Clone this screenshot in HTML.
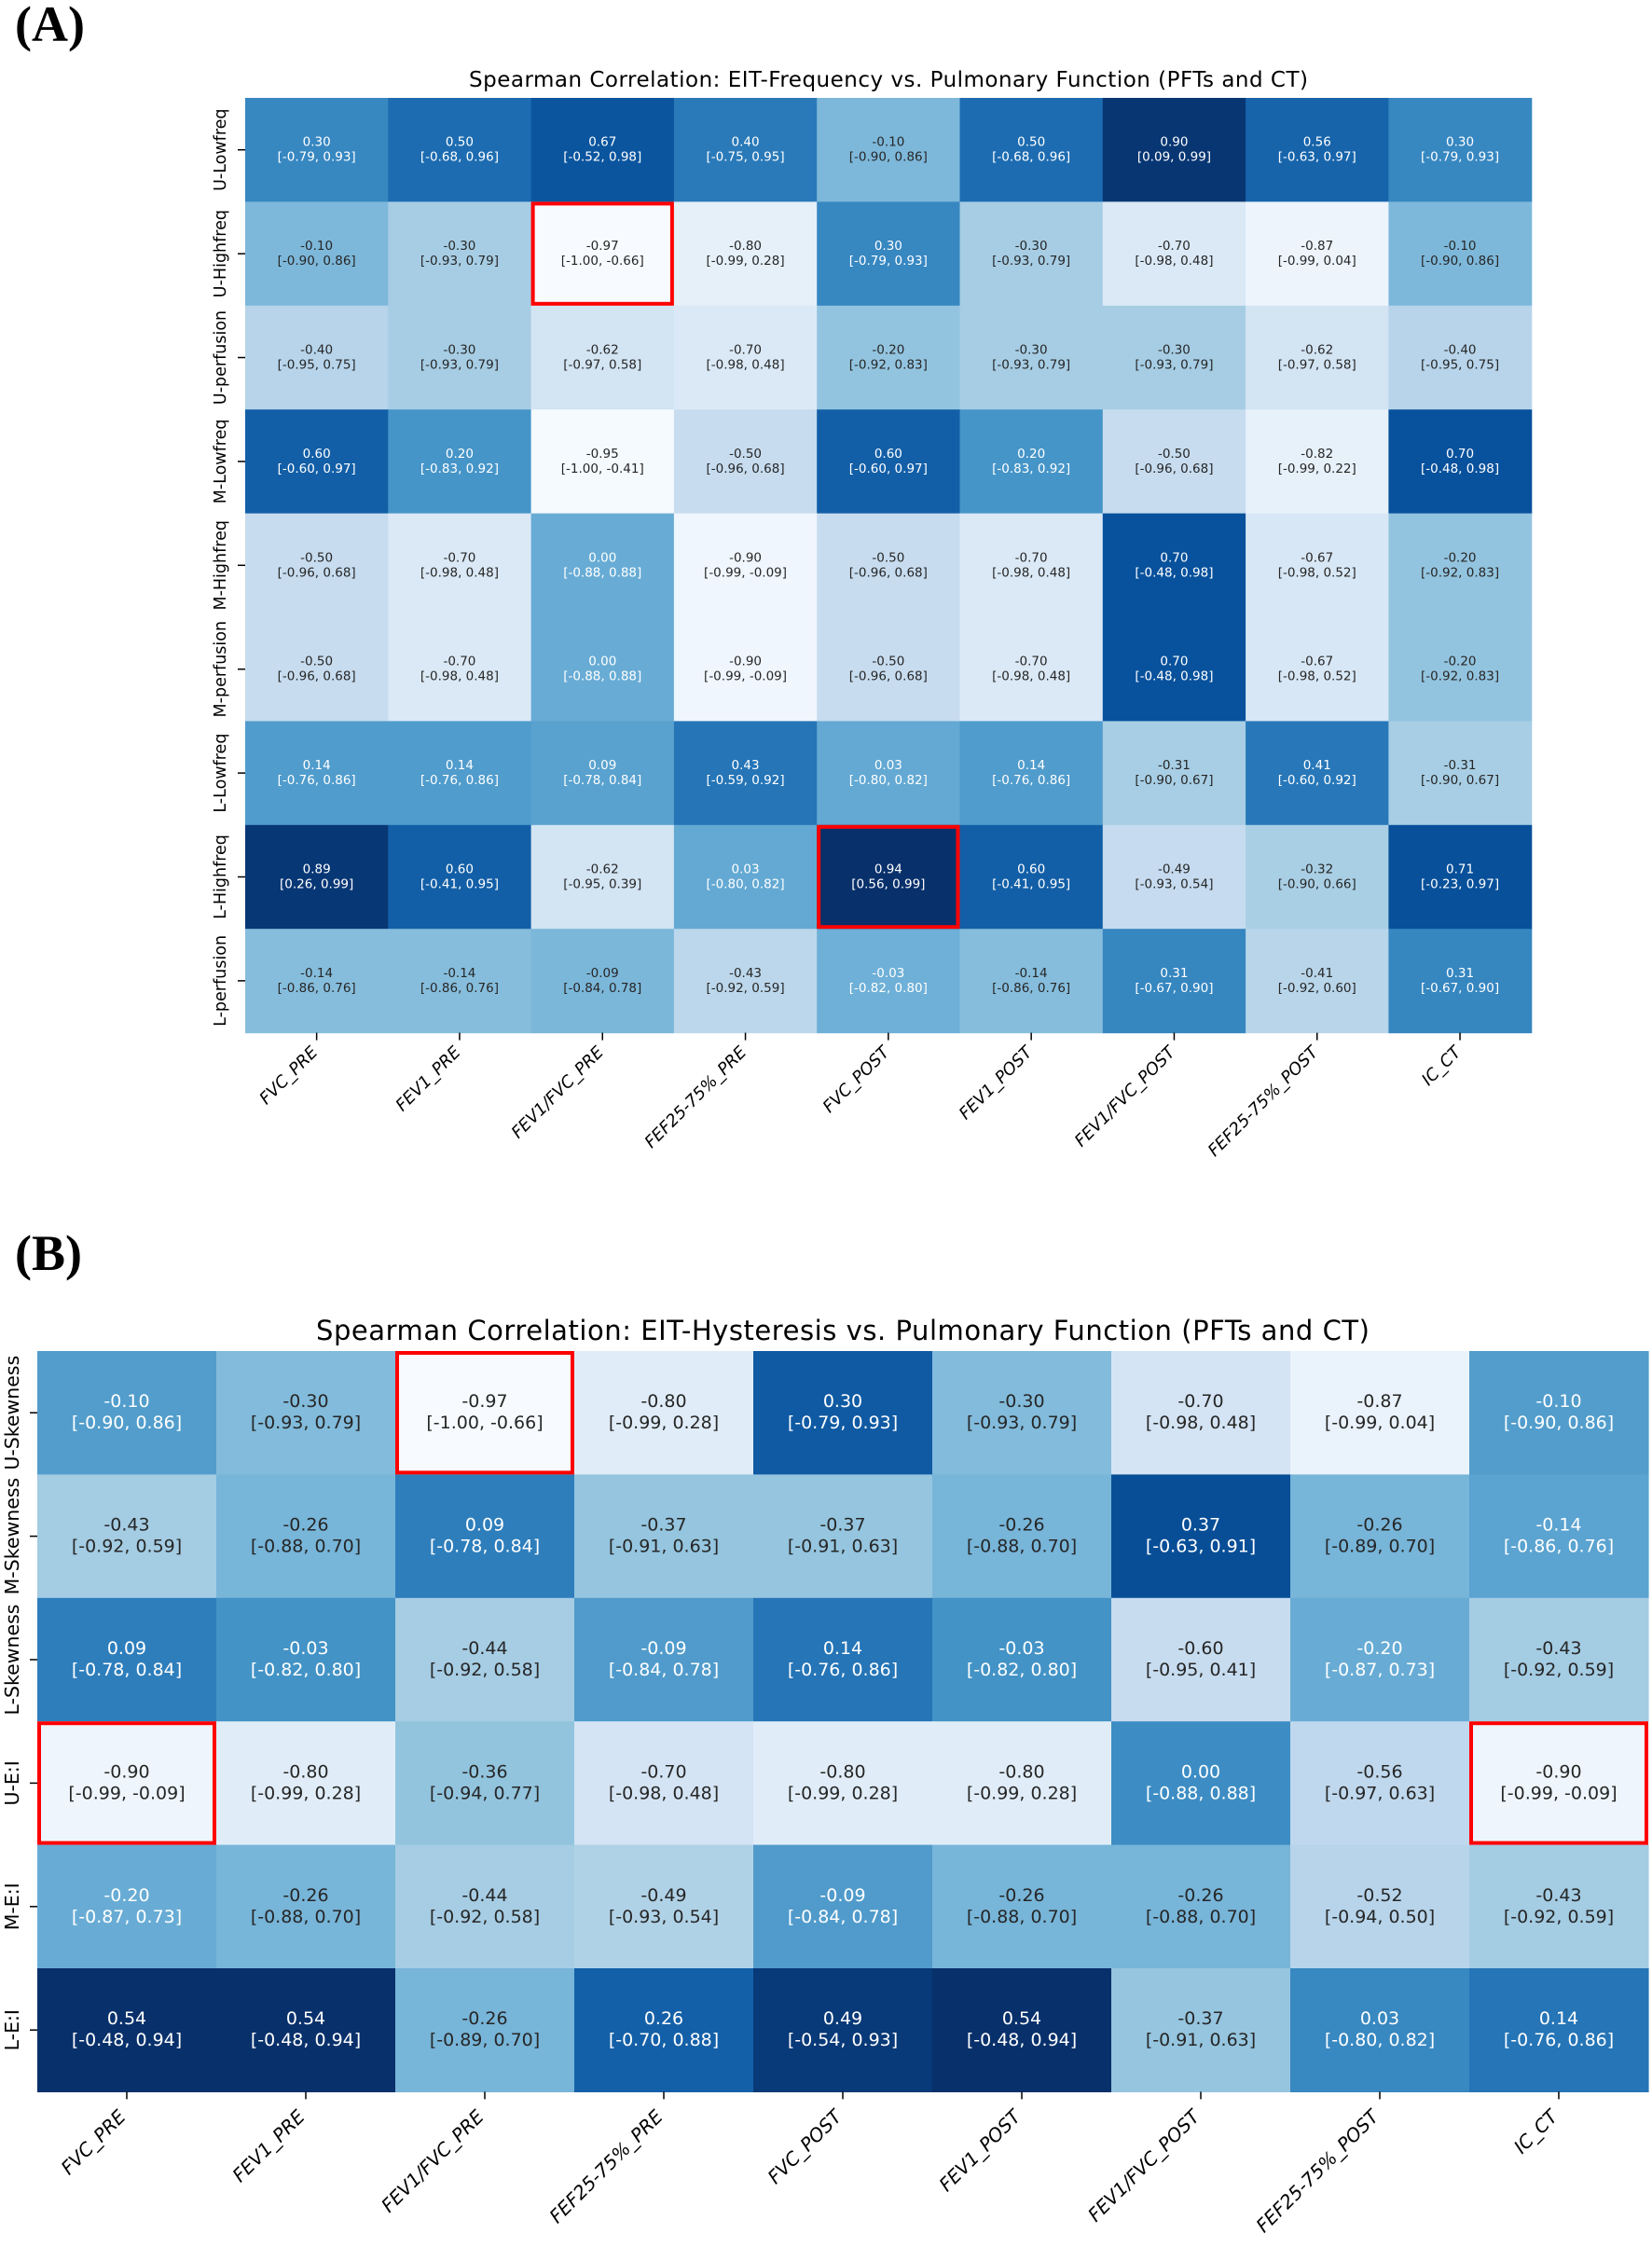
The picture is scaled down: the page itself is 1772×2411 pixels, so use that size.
<!DOCTYPE html>
<html><head><meta charset="utf-8">
<style>
html,body{margin:0;padding:0;background:#fff;}
svg{display:block;}
.a{font-family:"DejaVu Sans","Liberation Sans",sans-serif;font-size:13.5px;}
.b{font-family:"DejaVu Sans","Liberation Sans",sans-serif;font-size:19px;}
.lab{font-family:"DejaVu Sans","Liberation Sans",sans-serif;fill:#000;}
.pl{font-family:"Liberation Serif",serif;font-weight:bold;font-size:54px;fill:#000;}
</style></head>
<body>
<svg id="s" width="1772" height="2411" viewBox="0 0 1772 2411" xmlns="http://www.w3.org/2000/svg">
<rect width="1772" height="2411" fill="#fff"/>
<text class="pl" x="16" y="44">(A)</text>
<text class="pl" x="16" y="1362">(B)</text>
<text class="lab" x="953" y="93" font-size="23" text-anchor="middle" textLength="900">Spearman Correlation: EIT-Frequency vs. Pulmonary Function (PFTs and CT)</text>
<text class="lab" x="904" y="1437" font-size="29" text-anchor="middle" textLength="1130">Spearman Correlation: EIT-Hysteresis vs. Pulmonary Function (PFTs and CT)</text>
<g id="cellsA"></g><g id="cellsB"></g>
<g id="ta">
<text class="a"><tspan>0.30</tspan><tspan>[-0.79, 0.93]</tspan></text><text class="a"><tspan>0.50</tspan><tspan>[-0.68, 0.96]</tspan></text><text class="a"><tspan>0.67</tspan><tspan>[-0.52, 0.98]</tspan></text><text class="a"><tspan>0.40</tspan><tspan>[-0.75, 0.95]</tspan></text><text class="a"><tspan>-0.10</tspan><tspan>[-0.90, 0.86]</tspan></text><text class="a"><tspan>0.50</tspan><tspan>[-0.68, 0.96]</tspan></text><text class="a"><tspan>0.90</tspan><tspan>[0.09, 0.99]</tspan></text><text class="a"><tspan>0.56</tspan><tspan>[-0.63, 0.97]</tspan></text><text class="a"><tspan>0.30</tspan><tspan>[-0.79, 0.93]</tspan></text>
<text class="a"><tspan>-0.10</tspan><tspan>[-0.90, 0.86]</tspan></text><text class="a"><tspan>-0.30</tspan><tspan>[-0.93, 0.79]</tspan></text><text class="a"><tspan>-0.97</tspan><tspan>[-1.00, -0.66]</tspan></text><text class="a"><tspan>-0.80</tspan><tspan>[-0.99, 0.28]</tspan></text><text class="a"><tspan>0.30</tspan><tspan>[-0.79, 0.93]</tspan></text><text class="a"><tspan>-0.30</tspan><tspan>[-0.93, 0.79]</tspan></text><text class="a"><tspan>-0.70</tspan><tspan>[-0.98, 0.48]</tspan></text><text class="a"><tspan>-0.87</tspan><tspan>[-0.99, 0.04]</tspan></text><text class="a"><tspan>-0.10</tspan><tspan>[-0.90, 0.86]</tspan></text>
<text class="a"><tspan>-0.40</tspan><tspan>[-0.95, 0.75]</tspan></text><text class="a"><tspan>-0.30</tspan><tspan>[-0.93, 0.79]</tspan></text><text class="a"><tspan>-0.62</tspan><tspan>[-0.97, 0.58]</tspan></text><text class="a"><tspan>-0.70</tspan><tspan>[-0.98, 0.48]</tspan></text><text class="a"><tspan>-0.20</tspan><tspan>[-0.92, 0.83]</tspan></text><text class="a"><tspan>-0.30</tspan><tspan>[-0.93, 0.79]</tspan></text><text class="a"><tspan>-0.30</tspan><tspan>[-0.93, 0.79]</tspan></text><text class="a"><tspan>-0.62</tspan><tspan>[-0.97, 0.58]</tspan></text><text class="a"><tspan>-0.40</tspan><tspan>[-0.95, 0.75]</tspan></text>
<text class="a"><tspan>0.60</tspan><tspan>[-0.60, 0.97]</tspan></text><text class="a"><tspan>0.20</tspan><tspan>[-0.83, 0.92]</tspan></text><text class="a"><tspan>-0.95</tspan><tspan>[-1.00, -0.41]</tspan></text><text class="a"><tspan>-0.50</tspan><tspan>[-0.96, 0.68]</tspan></text><text class="a"><tspan>0.60</tspan><tspan>[-0.60, 0.97]</tspan></text><text class="a"><tspan>0.20</tspan><tspan>[-0.83, 0.92]</tspan></text><text class="a"><tspan>-0.50</tspan><tspan>[-0.96, 0.68]</tspan></text><text class="a"><tspan>-0.82</tspan><tspan>[-0.99, 0.22]</tspan></text><text class="a"><tspan>0.70</tspan><tspan>[-0.48, 0.98]</tspan></text>
<text class="a"><tspan>-0.50</tspan><tspan>[-0.96, 0.68]</tspan></text><text class="a"><tspan>-0.70</tspan><tspan>[-0.98, 0.48]</tspan></text><text class="a"><tspan>0.00</tspan><tspan>[-0.88, 0.88]</tspan></text><text class="a"><tspan>-0.90</tspan><tspan>[-0.99, -0.09]</tspan></text><text class="a"><tspan>-0.50</tspan><tspan>[-0.96, 0.68]</tspan></text><text class="a"><tspan>-0.70</tspan><tspan>[-0.98, 0.48]</tspan></text><text class="a"><tspan>0.70</tspan><tspan>[-0.48, 0.98]</tspan></text><text class="a"><tspan>-0.67</tspan><tspan>[-0.98, 0.52]</tspan></text><text class="a"><tspan>-0.20</tspan><tspan>[-0.92, 0.83]</tspan></text>
<text class="a"><tspan>-0.50</tspan><tspan>[-0.96, 0.68]</tspan></text><text class="a"><tspan>-0.70</tspan><tspan>[-0.98, 0.48]</tspan></text><text class="a"><tspan>0.00</tspan><tspan>[-0.88, 0.88]</tspan></text><text class="a"><tspan>-0.90</tspan><tspan>[-0.99, -0.09]</tspan></text><text class="a"><tspan>-0.50</tspan><tspan>[-0.96, 0.68]</tspan></text><text class="a"><tspan>-0.70</tspan><tspan>[-0.98, 0.48]</tspan></text><text class="a"><tspan>0.70</tspan><tspan>[-0.48, 0.98]</tspan></text><text class="a"><tspan>-0.67</tspan><tspan>[-0.98, 0.52]</tspan></text><text class="a"><tspan>-0.20</tspan><tspan>[-0.92, 0.83]</tspan></text>
<text class="a"><tspan>0.14</tspan><tspan>[-0.76, 0.86]</tspan></text><text class="a"><tspan>0.14</tspan><tspan>[-0.76, 0.86]</tspan></text><text class="a"><tspan>0.09</tspan><tspan>[-0.78, 0.84]</tspan></text><text class="a"><tspan>0.43</tspan><tspan>[-0.59, 0.92]</tspan></text><text class="a"><tspan>0.03</tspan><tspan>[-0.80, 0.82]</tspan></text><text class="a"><tspan>0.14</tspan><tspan>[-0.76, 0.86]</tspan></text><text class="a"><tspan>-0.31</tspan><tspan>[-0.90, 0.67]</tspan></text><text class="a"><tspan>0.41</tspan><tspan>[-0.60, 0.92]</tspan></text><text class="a"><tspan>-0.31</tspan><tspan>[-0.90, 0.67]</tspan></text>
<text class="a"><tspan>0.89</tspan><tspan>[0.26, 0.99]</tspan></text><text class="a"><tspan>0.60</tspan><tspan>[-0.41, 0.95]</tspan></text><text class="a"><tspan>-0.62</tspan><tspan>[-0.95, 0.39]</tspan></text><text class="a"><tspan>0.03</tspan><tspan>[-0.80, 0.82]</tspan></text><text class="a"><tspan>0.94</tspan><tspan>[0.56, 0.99]</tspan></text><text class="a"><tspan>0.60</tspan><tspan>[-0.41, 0.95]</tspan></text><text class="a"><tspan>-0.49</tspan><tspan>[-0.93, 0.54]</tspan></text><text class="a"><tspan>-0.32</tspan><tspan>[-0.90, 0.66]</tspan></text><text class="a"><tspan>0.71</tspan><tspan>[-0.23, 0.97]</tspan></text>
<text class="a"><tspan>-0.14</tspan><tspan>[-0.86, 0.76]</tspan></text><text class="a"><tspan>-0.14</tspan><tspan>[-0.86, 0.76]</tspan></text><text class="a"><tspan>-0.09</tspan><tspan>[-0.84, 0.78]</tspan></text><text class="a"><tspan>-0.43</tspan><tspan>[-0.92, 0.59]</tspan></text><text class="a"><tspan>-0.03</tspan><tspan>[-0.82, 0.80]</tspan></text><text class="a"><tspan>-0.14</tspan><tspan>[-0.86, 0.76]</tspan></text><text class="a"><tspan>0.31</tspan><tspan>[-0.67, 0.90]</tspan></text><text class="a"><tspan>-0.41</tspan><tspan>[-0.92, 0.60]</tspan></text><text class="a"><tspan>0.31</tspan><tspan>[-0.67, 0.90]</tspan></text>
</g>
<g id="tb">
<text class="b"><tspan>-0.10</tspan><tspan>[-0.90, 0.86]</tspan></text><text class="b"><tspan>-0.30</tspan><tspan>[-0.93, 0.79]</tspan></text><text class="b"><tspan>-0.97</tspan><tspan>[-1.00, -0.66]</tspan></text><text class="b"><tspan>-0.80</tspan><tspan>[-0.99, 0.28]</tspan></text><text class="b"><tspan>0.30</tspan><tspan>[-0.79, 0.93]</tspan></text><text class="b"><tspan>-0.30</tspan><tspan>[-0.93, 0.79]</tspan></text><text class="b"><tspan>-0.70</tspan><tspan>[-0.98, 0.48]</tspan></text><text class="b"><tspan>-0.87</tspan><tspan>[-0.99, 0.04]</tspan></text><text class="b"><tspan>-0.10</tspan><tspan>[-0.90, 0.86]</tspan></text>
<text class="b"><tspan>-0.43</tspan><tspan>[-0.92, 0.59]</tspan></text><text class="b"><tspan>-0.26</tspan><tspan>[-0.88, 0.70]</tspan></text><text class="b"><tspan>0.09</tspan><tspan>[-0.78, 0.84]</tspan></text><text class="b"><tspan>-0.37</tspan><tspan>[-0.91, 0.63]</tspan></text><text class="b"><tspan>-0.37</tspan><tspan>[-0.91, 0.63]</tspan></text><text class="b"><tspan>-0.26</tspan><tspan>[-0.88, 0.70]</tspan></text><text class="b"><tspan>0.37</tspan><tspan>[-0.63, 0.91]</tspan></text><text class="b"><tspan>-0.26</tspan><tspan>[-0.89, 0.70]</tspan></text><text class="b"><tspan>-0.14</tspan><tspan>[-0.86, 0.76]</tspan></text>
<text class="b"><tspan>0.09</tspan><tspan>[-0.78, 0.84]</tspan></text><text class="b"><tspan>-0.03</tspan><tspan>[-0.82, 0.80]</tspan></text><text class="b"><tspan>-0.44</tspan><tspan>[-0.92, 0.58]</tspan></text><text class="b"><tspan>-0.09</tspan><tspan>[-0.84, 0.78]</tspan></text><text class="b"><tspan>0.14</tspan><tspan>[-0.76, 0.86]</tspan></text><text class="b"><tspan>-0.03</tspan><tspan>[-0.82, 0.80]</tspan></text><text class="b"><tspan>-0.60</tspan><tspan>[-0.95, 0.41]</tspan></text><text class="b"><tspan>-0.20</tspan><tspan>[-0.87, 0.73]</tspan></text><text class="b"><tspan>-0.43</tspan><tspan>[-0.92, 0.59]</tspan></text>
<text class="b"><tspan>-0.90</tspan><tspan>[-0.99, -0.09]</tspan></text><text class="b"><tspan>-0.80</tspan><tspan>[-0.99, 0.28]</tspan></text><text class="b"><tspan>-0.36</tspan><tspan>[-0.94, 0.77]</tspan></text><text class="b"><tspan>-0.70</tspan><tspan>[-0.98, 0.48]</tspan></text><text class="b"><tspan>-0.80</tspan><tspan>[-0.99, 0.28]</tspan></text><text class="b"><tspan>-0.80</tspan><tspan>[-0.99, 0.28]</tspan></text><text class="b"><tspan>0.00</tspan><tspan>[-0.88, 0.88]</tspan></text><text class="b"><tspan>-0.56</tspan><tspan>[-0.97, 0.63]</tspan></text><text class="b"><tspan>-0.90</tspan><tspan>[-0.99, -0.09]</tspan></text>
<text class="b"><tspan>-0.20</tspan><tspan>[-0.87, 0.73]</tspan></text><text class="b"><tspan>-0.26</tspan><tspan>[-0.88, 0.70]</tspan></text><text class="b"><tspan>-0.44</tspan><tspan>[-0.92, 0.58]</tspan></text><text class="b"><tspan>-0.49</tspan><tspan>[-0.93, 0.54]</tspan></text><text class="b"><tspan>-0.09</tspan><tspan>[-0.84, 0.78]</tspan></text><text class="b"><tspan>-0.26</tspan><tspan>[-0.88, 0.70]</tspan></text><text class="b"><tspan>-0.26</tspan><tspan>[-0.88, 0.70]</tspan></text><text class="b"><tspan>-0.52</tspan><tspan>[-0.94, 0.50]</tspan></text><text class="b"><tspan>-0.43</tspan><tspan>[-0.92, 0.59]</tspan></text>
<text class="b"><tspan>0.54</tspan><tspan>[-0.48, 0.94]</tspan></text><text class="b"><tspan>0.54</tspan><tspan>[-0.48, 0.94]</tspan></text><text class="b"><tspan>-0.26</tspan><tspan>[-0.89, 0.70]</tspan></text><text class="b"><tspan>0.26</tspan><tspan>[-0.70, 0.88]</tspan></text><text class="b"><tspan>0.49</tspan><tspan>[-0.54, 0.93]</tspan></text><text class="b"><tspan>0.54</tspan><tspan>[-0.48, 0.94]</tspan></text><text class="b"><tspan>-0.37</tspan><tspan>[-0.91, 0.63]</tspan></text><text class="b"><tspan>0.03</tspan><tspan>[-0.80, 0.82]</tspan></text><text class="b"><tspan>0.14</tspan><tspan>[-0.76, 0.86]</tspan></text>
</g>
<g id="ya" class="lab" font-size="17.5">
<text>U-Lowfreq</text><text>U-Highfreq</text><text>U-perfusion</text><text>M-Lowfreq</text><text>M-Highfreq</text><text>M-perfusion</text><text>L-Lowfreq</text><text>L-Highfreq</text><text>L-perfusion</text>
</g>
<g id="yb" class="lab" font-size="20.5">
<text>U-Skewness</text><text>M-Skewness</text><text>L-Skewness</text><text>U-E:I</text><text>M-E:I</text><text>L-E:I</text>
</g>
<g id="xa" class="lab" font-size="18" font-style="italic">
<text>FVC_PRE</text><text>FEV1_PRE</text><text>FEV1/FVC_PRE</text><text>FEF25-75%_PRE</text><text>FVC_POST</text><text>FEV1_POST</text><text>FEV1/FVC_POST</text><text>FEF25-75%_POST</text><text>IC_CT</text>
</g>
<g id="xb" class="lab" font-size="20" font-style="italic">
<text>FVC_PRE</text><text>FEV1_PRE</text><text>FEV1/FVC_PRE</text><text>FEF25-75%_PRE</text><text>FVC_POST</text><text>FEV1_POST</text><text>FEV1/FVC_POST</text><text>FEF25-75%_POST</text><text>IC_CT</text>
</g>
<g id="ticks" stroke="#000" stroke-width="1.5"></g>
<g id="red" fill="none" stroke="#f00" stroke-width="4"></g>
</svg>
<script>
(function(){
var NS="http://www.w3.org/2000/svg";
var B=[[247,251,255],[222,235,247],[198,219,239],[158,202,225],[107,174,214],[66,146,198],[33,113,181],[8,81,156],[8,48,107]];
function cmap(t){t=Math.max(0,Math.min(1,t));var p=t*8,i=Math.min(7,Math.floor(p)),f=p-i;var a=B[i],b=B[i+1];return [0,1,2].map(function(k){return Math.round(a[k]+(b[k]-a[k])*f);});}
function lum(c){var s=c.map(function(v){v/=255;return v<=0.03928?v/12.92:Math.pow((v+0.055)/1.055,2.4);});return 0.2126*s[0]+0.7152*s[1]+0.0722*s[2];}
function el(n,at,p){var e=document.createElementNS(NS,n);for(var k in at)e.setAttribute(k,at[k]);p.appendChild(e);return e;}
function build(cfg){
  var texts=document.getElementById(cfg.t).getElementsByTagName("text");
  var vals=[];for(var i=0;i<texts.length;i++)vals.push(parseFloat(texts[i].firstChild.textContent));
  var mn=Math.min.apply(null,vals),mx=Math.max.apply(null,vals);
  var g=document.getElementById(cfg.cells);
  for(var i=0;i<texts.length;i++){
    var r=Math.floor(i/9),c=i%9;
    var x=cfg.x0+c*cfg.cw,y=cfg.y0+r*cfg.rh;
    var col=cmap((vals[i]-mn)/(mx-mn));
    el("rect",{x:x,y:y,width:cfg.cw+0.6,height:cfg.rh+0.6,fill:"rgb("+col.join(",")+")"},g);
    var t=texts[i],cx=x+cfg.cw/2,cy=y+cfg.rh/2;
    t.setAttribute("text-anchor","middle");
    t.setAttribute("fill",lum(col)>0.408?"#262626":"#ffffff");
    var sp=t.getElementsByTagName("tspan");
    sp[0].setAttribute("x",cx);sp[0].setAttribute("y",cy+cfg.d1);
    sp[1].setAttribute("x",cx);sp[1].setAttribute("y",cy+cfg.d2);
  }
  var tk=document.getElementById("ticks");
  var ys=document.getElementById(cfg.yl).getElementsByTagName("text");
  for(var r=0;r<ys.length;r++){
    var cy=cfg.y0+(r+0.5)*cfg.rh;
    el("line",{x1:cfg.x0-8,y1:cy,x2:cfg.x0,y2:cy},tk);
    ys[r].setAttribute("text-anchor","middle");
    ys[r].setAttribute("transform","translate("+cfg.yx+","+cy+") rotate(-90)");
  }
  var xs=document.getElementById(cfg.xl).getElementsByTagName("text");
  var bot=cfg.y0+cfg.rh*ys.length;
  for(var c=0;c<xs.length;c++){
    var cx=cfg.x0+(c+0.5)*cfg.cw;
    el("line",{x1:cx,y1:bot,x2:cx,y2:bot+8},tk);
    xs[c].setAttribute("text-anchor","end");
    xs[c].setAttribute("transform","translate("+(cx+cfg.xdx)+","+(bot+cfg.xdy)+") rotate(-45)");
  }
  var rd=document.getElementById("red");
  cfg.red.forEach(function(p){
    el("rect",{x:cfg.x0+p[1]*cfg.cw+2,y:cfg.y0+p[0]*cfg.rh+2,width:cfg.cw-4,height:cfg.rh-4},rd);
  });
}
build({t:"ta",cells:"cellsA",x0:263,y0:105,cw:153.3,rh:111.4,d1:-4,d2:12,yl:"ya",xl:"xa",yx:242,xdx:2,xdy:22,red:[[1,2],[7,4]]});
build({t:"tb",cells:"cellsB",x0:40,y0:1449,cw:192,rh:132.4,d1:-6,d2:17,yl:"yb",xl:"xb",yx:20,xdx:0,xdy:28,red:[[0,2],[3,0],[3,8]]});
})();
</script>
</body></html>
